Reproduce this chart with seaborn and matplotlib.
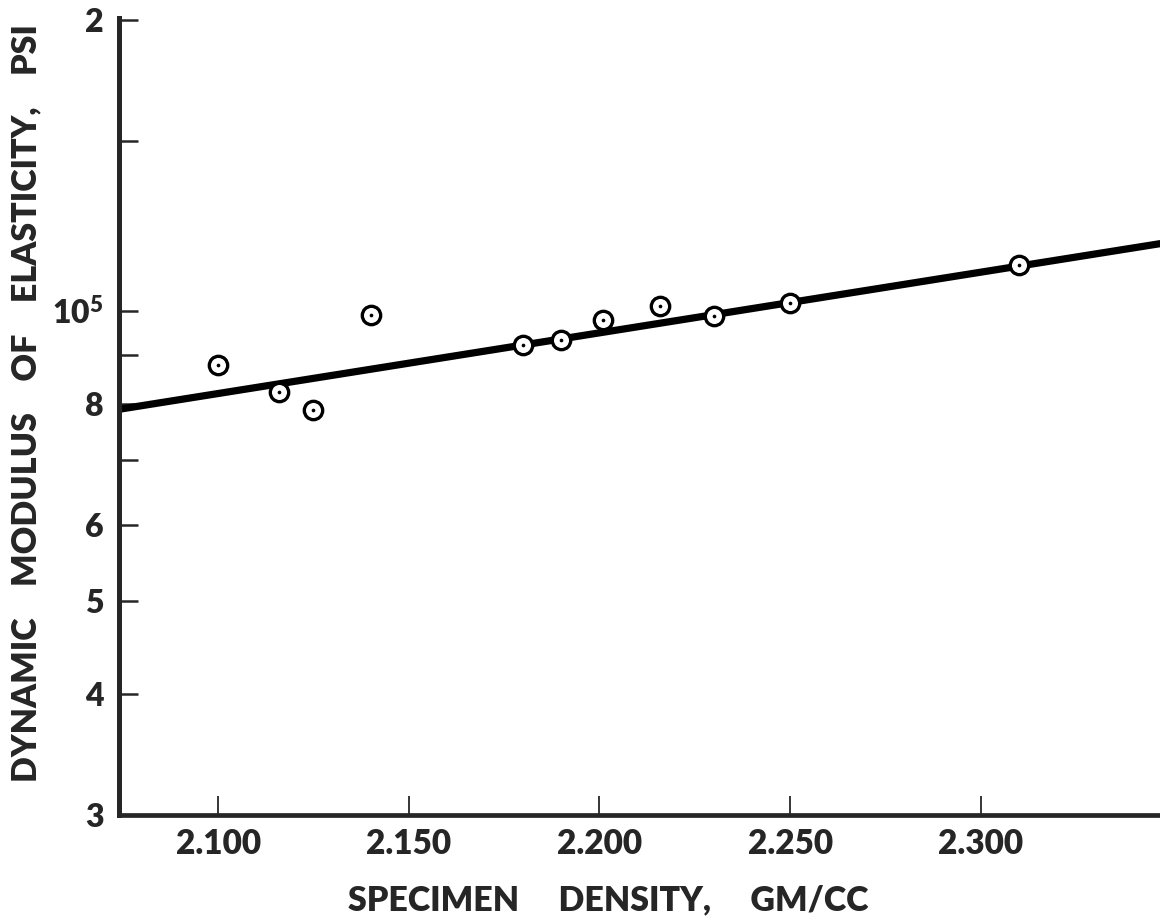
import matplotlib
matplotlib.use("Agg")
import matplotlib.pyplot as plt
import seaborn as sns
import pandas as pd

# ---- data ----
density = [2.100, 2.116, 2.125, 2.140, 2.180, 2.190, 2.201, 2.216, 2.230, 2.250, 2.310]
modulus = [87900, 82300, 78800, 99000, 92000, 93100, 97700, 101200, 98600, 101700, 111600]
fit_density = [2.074, 2.347]
fit_modulus = [79000, 117300]

x_ticks = [2.100, 2.150, 2.200, 2.250, 2.300]
x_tick_labels = ["2.100", "2.150", "2.200", "2.250", "2.300"]
y_ticks = [3e4, 4e4, 5e4, 6e4, 7e4, 8e4, 9e4, 1e5, 1.5e5, 2e5]
y_tick_labels = ["3", "4", "5", "6", "", "8", "", "10$^5$", "", "2"]

x_label = "SPECIMEN     DENSITY,     GM/CC"
y_label = "DYNAMIC    MODULUS    OF    ELASTICITY,    PSI"

sns.set_style("white")
plt.rcParams["font.family"] = ["Lato", "DejaVu Sans"]
plt.rcParams["font.weight"] = "heavy"
plt.rcParams["mathtext.default"] = "regular"

pts = pd.DataFrame({"density": density, "modulus": modulus})
fit = pd.DataFrame({"density": fit_density, "modulus": fit_modulus})

fig = plt.figure(figsize=(11.6, 9.22), dpi=100)
ax = fig.add_axes([119 / 1160, (922 - 815) / 922, (1160 - 119) / 1160, (815 - 18) / 922])

sns.lineplot(data=fit, x="density", y="modulus", ax=ax, color="black", linewidth=5.2, zorder=2)
sns.scatterplot(data=pts, x="density", y="modulus", ax=ax, marker="o", s=175,
                facecolor="white", edgecolor="black", linewidth=2.4, zorder=3)
sns.scatterplot(data=pts, x="density", y="modulus", ax=ax, marker="o", s=7,
                color="black", linewidth=0, zorder=4)

ax.set_yscale("log")
ax.set_xlim(2.074, 2.347)
ax.set_ylim(3e4, 2.01e5)
ax.set_xticks(x_ticks)
ax.set_xticklabels(x_tick_labels)
ax.set_yticks(y_ticks)
ax.set_yticklabels(y_tick_labels)
ax.minorticks_off()

for side in ["top", "right"]:
    ax.spines[side].set_visible(False)
ax.spines["left"].set_linewidth(3.6)
ax.spines["bottom"].set_linewidth(3.4)

ax.tick_params(axis="y", direction="in", length=14, width=1.8, pad=11,
               labelsize=23, left=True)
ax.tick_params(axis="x", direction="in", length=14, width=1.3, pad=9,
               labelsize=24, bottom=True)
for lab in ax.get_xticklabels() + ax.get_yticklabels():
    lab.set_fontweight("heavy")

ax.set_xlabel(x_label, fontsize=24.5, fontweight="heavy")
ax.set_ylabel(y_label, fontsize=24.5, fontweight="heavy")
ax.xaxis.set_label_coords((608 - 119) / 1041, (815 - 900) / 797)
ax.xaxis.label.set_va("center")
ax.yaxis.set_label_coords((26 - 119) / 1041, (815 - 403) / 797)
ax.yaxis.label.set_va("center")

fig.savefig("out.png", dpi=100, facecolor="white")
